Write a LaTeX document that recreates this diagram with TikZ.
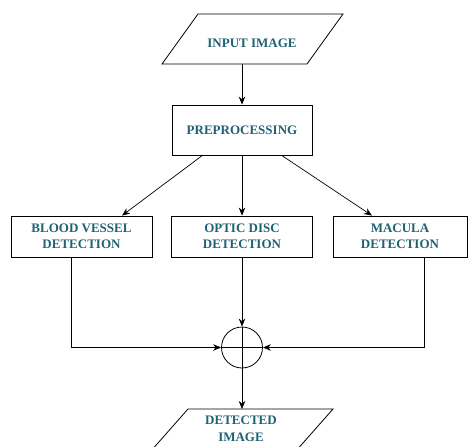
\documentclass[tikz,border=0pt]{standalone}
\usepackage{fontspec}
\setmainfont{Liberation Serif}
\usetikzlibrary{arrows.meta}
\definecolor{labelteal}{HTML}{1F6272}

\begin{document}
\begin{tikzpicture}[x=1pt, y=-1pt, line width=0.7pt, >={Stealth[length=8pt,width=6.5pt]},
    every node/.style={font=\bfseries\fontsize{13}{16.5}\selectfont, text=labelteal, align=center},
    box/.style={draw=black, line width=0.8pt, minimum height=41pt, inner sep=2pt}]
  \useasboundingbox (0,0) rectangle (470,446);

  % Input parallelogram
  \draw[line width=0.8pt] (198,14) -- (343,14) -- (307,64) -- (162,64) -- cycle;
  \node (input) at (252,43) {INPUT IMAGE};
  \coordinate (inbot) at (242,64);

  % Preprocessing
  \node[box, minimum width=140pt, minimum height=50pt] (pre) at (242,130) {PREPROCESSING};
  \coordinate (preL) at (203,155);
  \coordinate (preR) at (281,155);

  % The three detection stages
  \node[box, minimum width=141pt] (vessel) at (81.5,236.5) {BLOOD VESSEL\\DETECTION};
  \node[box, minimum width=141pt] (disc) at (242,236.5) {OPTIC DISC\\DETECTION};
  \node[box, minimum width=134pt] (macula) at (400,236.5) {MACULA\\DETECTION};

  % Summing junction
  \node[circle, draw=black, line width=0.8pt, minimum size=41pt, inner sep=0pt] (sum) at (242,347.5) {};
  \draw (sum.north) -- (sum.south);
  \draw (sum.west) -- (sum.east);

  % Output parallelogram
  \draw[line width=0.8pt] (188,409) -- (333,409) -- (288,460) -- (143,460) -- cycle;
  \node (output) at (241,429) {DETECTED\\IMAGE};
  \coordinate (outtop) at (242,409);

  % Connectors
  \draw[->] (inbot) -- (pre.north);
  \draw[->] (preL) -- ([xshift=40.5pt]vessel.north);
  \draw[->] (pre.south) -- (disc.north);
  \draw[->] (preR) -- ([xshift=-28pt]macula.north);

  \draw[->] ([xshift=-10.5pt]vessel.south) |- (sum.west);
  \draw[->] (disc.south) -- (sum.north);
  \draw[->] ([xshift=24pt]macula.south) |- (sum.east);
  \draw[->] (sum.south) -- (outtop);

\end{tikzpicture}
\end{document}
